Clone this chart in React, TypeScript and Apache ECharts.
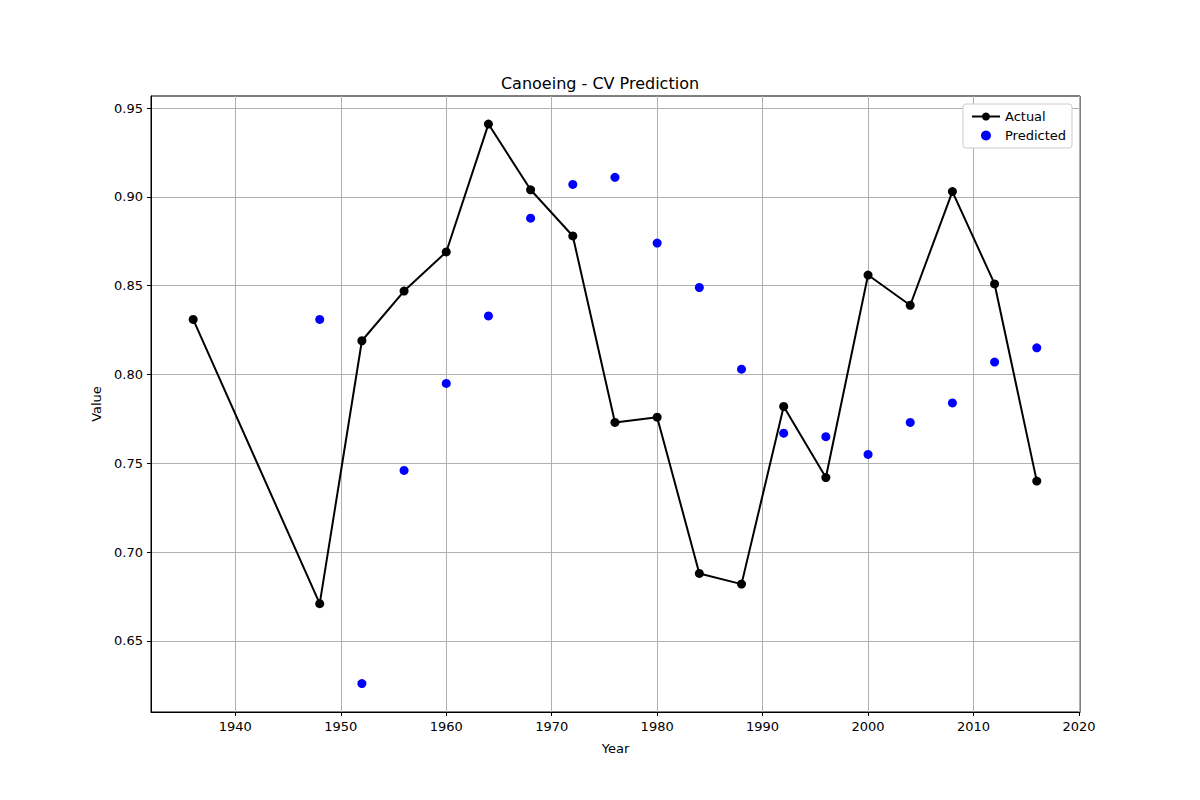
import { useEffect, useRef } from "react";
import * as echarts from "echarts";

const actualYears = [1936, 1948, 1952, 1956, 1960, 1964, 1968, 1972, 1976, 1980, 1984, 1988, 1992, 1996, 2000, 2004, 2008, 2012, 2016];
const actualValues = [0.831, 0.671, 0.819, 0.847, 0.869, 0.941, 0.904, 0.878, 0.773, 0.776, 0.688, 0.682, 0.782, 0.742, 0.856, 0.839, 0.903, 0.851, 0.740];
const predYears = [1948, 1952, 1956, 1960, 1964, 1968, 1972, 1976, 1980, 1984, 1988, 1992, 1996, 2000, 2004, 2008, 2012, 2016];
const predValues = [0.831, 0.626, 0.746, 0.795, 0.833, 0.888, 0.907, 0.911, 0.874, 0.849, 0.803, 0.767, 0.765, 0.755, 0.773, 0.784, 0.807, 0.815];
const xTicks = [1940, 1950, 1960, 1970, 1980, 1990, 2000, 2010, 2020];
const yTicks = [0.65, 0.7, 0.75, 0.8, 0.85, 0.9, 0.95];

const FONT = "DejaVu Sans";

const App = () => {
  const chartRef = useRef<HTMLDivElement>(null);

  useEffect(() => {
    if (!chartRef.current) return;
    document.body.style.margin = "0";
    const chart = echarts.init(chartRef.current, undefined, { renderer: "svg" });

    chart.setOption({
      animation: false,
      textStyle: { fontFamily: FONT },
      title: {
        text: "Canoeing - CV Prediction",
        left: "center",
        top: 70,
        textStyle: { fontSize: 16, fontWeight: "normal", color: "#000", fontFamily: FONT },
      },
      legend: {
        right: 128,
        top: 104,
        orient: "vertical",
        backgroundColor: "#fff",
        borderColor: "#ccc",
        borderWidth: 1,
        borderRadius: 3,
        padding: [6, 6, 6, 8],
        itemGap: 6,
        itemWidth: 28,
        itemHeight: 10,
        textStyle: { fontSize: 13, color: "#000", fontFamily: FONT },
        data: [
          { name: "Actual" },
          { name: "Predicted", icon: "circle" },
        ],
      },
      grid: {
        left: 151, right: 120, top: 96, bottom: 88, containLabel: false,
        show: true, borderColor: "#000", borderWidth: 1, backgroundColor: "transparent",
      },
      xAxis: {
        type: "value",
        min: 1932,
        max: 2020.1,
        name: "Year",
        nameLocation: "middle",
        nameGap: 30,
        nameTextStyle: { fontSize: 13, color: "#000" },
        axisLine: { show: true, onZero: false, lineStyle: { color: "#000" } },
        axisTick: { show: true, customValues: xTicks, length: 4, inside: false, lineStyle: { color: "#000" } },
        axisLabel: { customValues: xTicks, color: "#000", fontSize: 13, margin: 8, formatter: (v: number) => String(v) },
        splitLine: { show: true, lineStyle: { color: "#b0b0b0", width: 1 } },
      },
      yAxis: {
        type: "value",
        min: 0.61,
        max: 0.9568,
        name: "Value",
        nameLocation: "middle",
        nameGap: 48,
        nameTextStyle: { fontSize: 13, color: "#000" },
        axisLine: { show: true, onZero: false, lineStyle: { color: "#000" } },
        axisTick: { show: true, customValues: yTicks, length: 4, lineStyle: { color: "#000" } },
        axisLabel: {
          customValues: yTicks,
          color: "#000",
          fontSize: 13,
          margin: 8,
          formatter: (v: number) => v.toFixed(2),
        },
        splitLine: { show: true, lineStyle: { color: "#b0b0b0", width: 1 } },
      },
      series: [
        {
          name: "Actual",
          type: "line",
          data: actualYears.map((y, i) => [y, actualValues[i]]),
          symbol: "circle",
          symbolSize: 9,
          lineStyle: { color: "#000", width: 2 },
          itemStyle: { color: "#000" },
          z: 3,
        },
        {
          name: "Predicted",
          type: "scatter",
          data: predYears.map((y, i) => [y, predValues[i]]),
          symbolSize: 9,
          itemStyle: { color: "#0000ff", opacity: 1 },
          z: 4,
        },
      ],
    });

    return () => chart.dispose();
  }, []);

  return <div ref={chartRef} style={{ width: 1200, height: 800 }} />;
};

export default App;
